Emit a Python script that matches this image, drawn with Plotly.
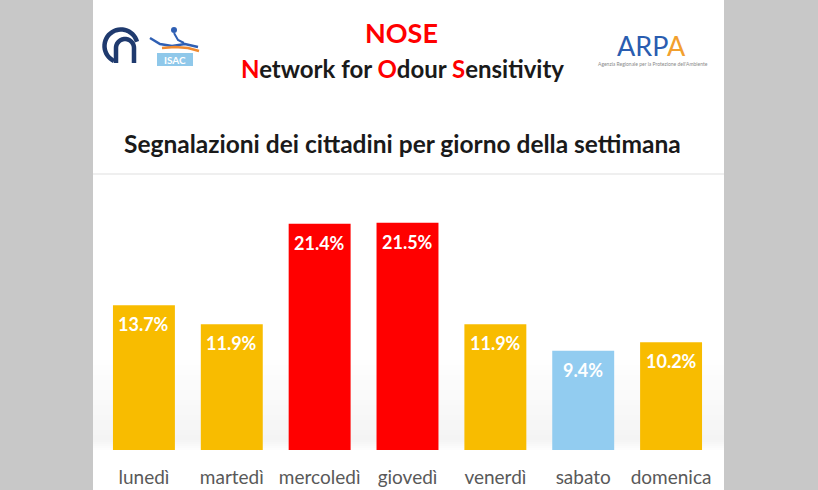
import math
import plotly.graph_objects as go

# ---- data ----
days = ["lunedì", "martedì", "mercoledì", "giovedì", "venerdì", "sabato", "domenica"]
share = [13.7, 11.9, 21.4, 21.5, 11.9, 9.4, 10.2]
bar_colors = ["#F8BC00", "#F8BC00", "#FF0000", "#FF0000", "#F8BC00", "#92CCF0", "#F8BC00"]

W, H = 818, 490
L, R, T, B = 100, 103, 180, 40
PW, PH = W - L - R, H - T - B
YMAX = PH / 10.57


def px(x):
    return (x - L) / PW


def py(y):
    return (H - B - y) / PH


FONT = "Lato, 'Open Sans', sans-serif"

fig = go.Figure(go.Bar(
    x=days, y=share,
    marker=dict(color=bar_colors, line=dict(width=0)),
    hoverinfo="x+y",
))

shapes = []
# subtle floor shading behind the bars (soft gradient)
for i in range(16):
    y0 = 360 + i * 5
    a = 0.004 + 0.0025 * i
    shapes.append(dict(type="rect", xref="paper", yref="paper", layer="below",
                       x0=px(93), x1=px(724), y0=py(y0 + 5), y1=py(y0),
                       fillcolor=f"rgba(0,0,0,{a:.4f})", line=dict(width=0)))
for i in range(5):
    y0 = 440 + i * 2
    a = 0.04 - 0.008 * i
    shapes.append(dict(type="rect", xref="paper", yref="paper", layer="below",
                       x0=px(93), x1=px(724), y0=py(y0 + 2), y1=py(y0),
                       fillcolor=f"rgba(0,0,0,{a:.4f})", line=dict(width=0)))
# grey side bands
shapes.append(dict(type="rect", xref="paper", yref="paper", layer="below",
                   x0=px(-5), x1=px(93), y0=py(H + 5), y1=py(-5),
                   fillcolor="#C8C8C8", line=dict(width=0)))
shapes.append(dict(type="rect", xref="paper", yref="paper", layer="below",
                   x0=px(724), x1=px(W + 5), y0=py(H + 5), y1=py(-5),
                   fillcolor="#C8C8C8", line=dict(width=0)))
# faint separator line
shapes.append(dict(type="line", xref="paper", yref="paper", layer="below",
                   x0=px(93), x1=px(724), y0=py(174), y1=py(174),
                   line=dict(color="#EFEFEF", width=2)))


def path_from(points):
    return "M " + " L ".join(f"{px(x):.5f},{py(y):.5f}" for x, y in points)


def arc(cx, cy, r, a0, a1, n=30):
    pts = []
    for i in range(n + 1):
        a = math.radians(a0 + (a1 - a0) * i / n)
        pts.append((cx + r * math.cos(a), cy - r * math.sin(a)))
    return pts


NAVY = "#1F3A6E"
# CNR logo (approximation)
outer = arc(121, 46, 16.5, 15, 245)
shapes.append(dict(type="path", xref="paper", yref="paper", path=path_from(outer),
                   line=dict(color=NAVY, width=4.5)))
inner = [(116, 63), (116, 48)] + arc(125, 48, 9, 180, 0) + [(134, 63)]
shapes.append(dict(type="path", xref="paper", yref="paper", path=path_from(inner),
                   line=dict(color=NAVY, width=4.5)))
# ISAC logo (approximation)
shapes.append(dict(type="rect", xref="paper", yref="paper",
                   x0=px(157), x1=px(193), y0=py(66), y1=py(53),
                   fillcolor="#8FC8EA", line=dict(width=0)))
sw1 = [(150, 38), (160, 44), (172, 46), (185, 44), (198, 47)]
sw2 = [(162, 48), (175, 47), (188, 48), (199, 51)]
shapes.append(dict(type="path", xref="paper", yref="paper", path=path_from(sw1),
                   line=dict(color="#2F5FB3", width=2.5)))
shapes.append(dict(type="path", xref="paper", yref="paper", path=path_from(sw2),
                   line=dict(color="#F08A30", width=2.5)))
shapes.append(dict(type="circle", xref="paper", yref="paper",
                   x0=px(171), x1=px(177), y0=py(33), y1=py(27),
                   fillcolor="#2F5FB3", line=dict(width=0)))
shapes.append(dict(type="path", xref="paper", yref="paper",
                   path=path_from([(174, 33), (178, 40), (184, 43)]),
                   line=dict(color="#2F5FB3", width=2)))


def note(text, x, y, size, color="#1A1A1A", weight="normal"):
    return dict(text=text, x=px(x), y=py(y), xref="paper", yref="paper",
                xanchor="center", yanchor="middle", showarrow=False,
                font=dict(family=FONT, size=size, color=color, weight=weight))


annotations = [
    note("NOSE", 401, 33, 27, "#FF0000", "bold"),
    note("<span style='color:#FF0000'>N</span>etwork for "
         "<span style='color:#FF0000'>O</span>dour "
         "<span style='color:#FF0000'>S</span>ensitivity", 402, 68, 24, "#1A1A1A", "bold"),
    note("Segnalazioni dei cittadini per giorno della settimana", 402, 143, 24.5, "#1A1A1A", "bold"),
    note("<span style='color:#2A5DB0'>ARP</span><span style='color:#F2A02E'>A</span>",
         651, 45, 27, "#2A5DB0"),
    note("Agenzia Regionale per la Protezione dell'Ambiente", 653, 64, 5, "#8A8A8A"),
    note("ISAC", 175, 59.5, 10, "white", "bold"),
]
# value labels inside the top of each bar
for d, v in zip(days, share):
    annotations.append(dict(x=d, y=v, xref="x", yref="y", yshift=-19,
                            text=f"{v:.1f}%", showarrow=False,
                            xanchor="center", yanchor="middle",
                            font=dict(family=FONT, size=18, color="white", weight="bold")))

fig.update_layout(
    width=W, height=H,
    margin=dict(l=L, r=R, t=T, b=B, pad=0, autoexpand=False),
    paper_bgcolor="white", plot_bgcolor="rgba(0,0,0,0)",
    bargap=0.295, showlegend=False,
    shapes=shapes, annotations=annotations,
    xaxis=dict(showline=False, showgrid=False, zeroline=False, ticks="",
               tickfont=dict(family=FONT, size=19, color="#595959"),
               ticklabelstandoff=14, fixedrange=True, automargin=False),
    yaxis=dict(range=[0, YMAX], visible=False, fixedrange=True, automargin=False),
    font=dict(family=FONT),
)

fig.write_html(
    "out.html",
    config={"displayModeBar": False},
    post_script="document.body.style.margin='0';document.body.style.overflow='hidden';",
)
